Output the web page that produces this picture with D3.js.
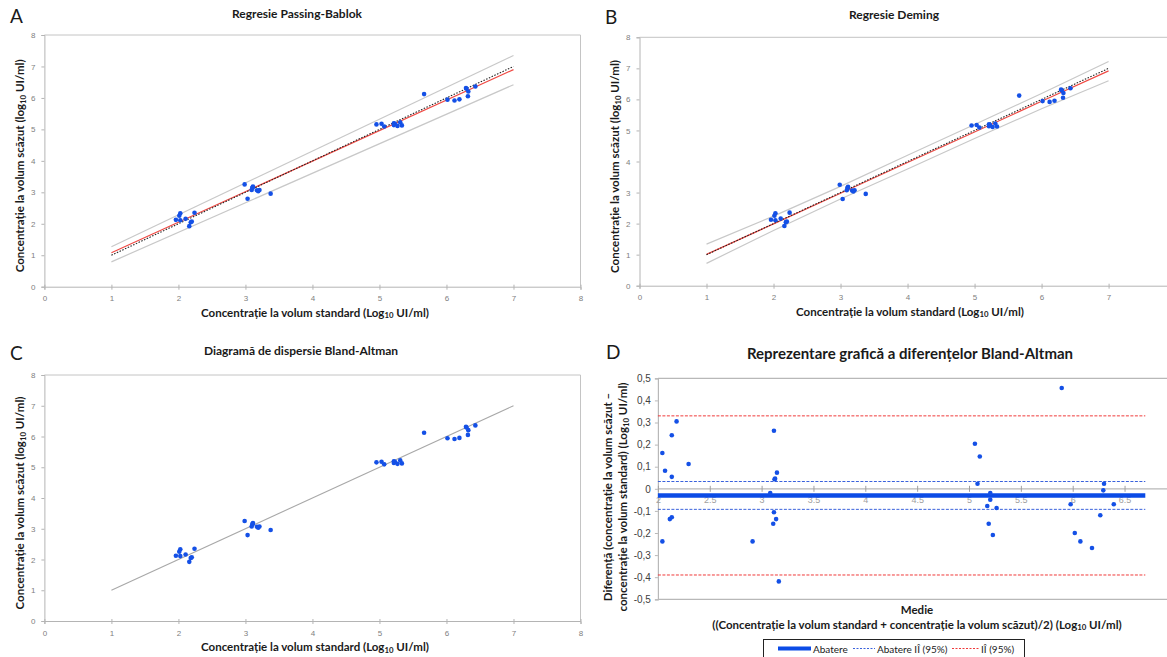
<!DOCTYPE html>
<html lang="ro">
<head>
<meta charset="UTF-8">
<title>Passing-Bablok, Deming, Bland-Altman</title>
<script src="https://cdn.jsdelivr.net/npm/d3@7"></script>
<style>
  body { margin: 0; background: #fff; }
  svg { display: block; font-family: Lato, "Open Sans", sans-serif; }
  .tick-lbl { font-size: 8px; fill: #808080; }
  .ax-title { font-size: 11.5px; font-weight: bold; fill: #1a1a1a; }
  .p-title { font-size: 12px; font-weight: bold; fill: #1a1a1a; }
  .letter { font-size: 19px; fill: #1a1a1a; }
</style>
</head>
<body>
<svg id="chart" width="1167" height="657"></svg>
<script>
// scatter data: standard volume vs reduced volume (log10 UI/ml)
const stdVals = [1.962, 2.028, 2.013, 2.028, 2.107, 2.240, 2.184, 2.199, 2.162,
  2.988, 3.112, 3.107, 3.104, 3.093, 3.172, 3.209, 3.191, 3.032, 3.376,
  4.955, 5.031, 5.071, 5.215, 5.230, 5.215, 5.310, 5.269, 5.335,
  5.666, 6.015, 6.120, 6.193, 6.320, 6.326, 6.299, 6.291, 6.431];
const lowVals = [2.124, 2.110, 2.255, 2.333, 2.161, 2.352, 2.047, 2.070, 1.924,
  3.251, 3.185, 3.153, 3.147, 3.074, 3.066, 3.072, 3.033, 2.794, 2.957,
  5.159, 5.177, 5.094, 5.196, 5.181, 5.137, 5.223, 5.111, 5.126,
  6.122, 5.945, 5.920, 5.955, 6.052, 6.206, 6.292, 6.314, 6.361];

// Bland-Altman: mean and difference
const meanVals = [2.043, 2.069, 2.134, 2.180, 2.134, 2.296, 2.115, 2.134, 2.043,
  3.119, 3.148, 3.130, 3.125, 3.083, 3.119, 3.140, 3.112, 2.913, 3.166,
  5.057, 5.104, 5.082, 5.205, 5.205, 5.176, 5.266, 5.190, 5.230,
  5.894, 5.980, 6.020, 6.074, 6.186, 6.266, 6.295, 6.302, 6.396];
const diffVals = [0.162, 0.082, 0.242, 0.305, 0.054, 0.112, -0.137, -0.129, -0.238,
  0.263, 0.073, 0.046, 0.043, -0.019, -0.106, -0.137, -0.158, -0.238, -0.419,
  0.204, 0.146, 0.023, -0.019, -0.049, -0.078, -0.087, -0.158, -0.209,
  0.456, -0.070, -0.200, -0.238, -0.268, -0.120, -0.007, 0.023, -0.070];

// regression lines
const lineX = [1, 7];
const identityY = [1, 7];
const pbFit = [1.08, 6.90];
const pbUpper = [1.27, 7.35];
const pbLower = [0.79, 6.42];

const bandX = [1, 2, 3, 4, 5, 6, 7];
const demFit = [1.01, 1.99, 2.98, 3.97, 4.95, 5.94, 6.92];
const demUpper = [1.34, 2.24, 3.20, 4.20, 5.19, 6.19, 7.22];
const demLower = [0.72, 1.78, 2.79, 3.76, 4.74, 5.70, 6.60];

const biasVal = -0.03;
const biasCI = [0.033, -0.093];
const loaVals = [0.33, -0.39];

const axisTicks = [0, 1, 2, 3, 4, 5, 6, 7, 8];
const baXTicks = [2, 2.5, 3, 3.5, 4, 4.5, 5, 5.5, 6, 6.5];
const baYTicks = [0.5, 0.4, 0.3, 0.2, 0.1, 0, -0.1, -0.2, -0.3, -0.4, -0.5];

const svg = d3.select('#chart');
svg.append('rect').attr('width', 1167).attr('height', 657).attr('fill', '#fff');

const PT = '#1450e6', GRID = '#b4b4b4', CI = '#c8c8c8', RED = '#f04a44';

function label(g, x, y, parts, cls, rotate) {
  const t = g.append('text').attr('class', cls).attr('text-anchor', 'middle')
    .attr('transform', `translate(${x},${y})` + (rotate ? ' rotate(-90)' : ''));
  parts.forEach(p => {
    if (p.sub) {
      t.append('tspan').attr('font-size', '0.68em').attr('dy', 1.5).text(p.t);
    } else {
      t.append('tspan').attr('dy', p.after ? -1.5 : 0).text(p.t);
    }
  });
  return t;
}
function logParts(L) {
  return [{t: '(' + L + 'og'}, {t: '10', sub: true}, {t: ' UI/ml)', after: true}];
}

function scatterPanel(o) {
  const g = svg.append('g');
  const x = d3.scaleLinear().domain([0, 8]).range([o.x0, o.x1]);
  const y = d3.scaleLinear().domain([0, 8]).range([o.y0, o.y1]);

  // frame
  g.append('line').attr('x1', o.x0).attr('x2', o.x1).attr('y1', o.y1).attr('y2', o.y1).attr('stroke', '#c4c4c4');
  g.append('line').attr('x1', o.x1).attr('x2', o.x1).attr('y1', o.y1).attr('y2', o.y0).attr('stroke', '#c4c4c4');

  const xa = g.append('g').attr('transform', `translate(0,${o.y0})`)
    .call(d3.axisBottom(x).tickValues(o.xTicks).tickSize(3).tickPadding(6).tickFormat(d3.format('d')));
  xa.select('.domain').attr('stroke', GRID);
  xa.selectAll('.tick line').attr('stroke', GRID).attr('y1', -2).attr('y2', 3);
  xa.selectAll('.tick text').attr('class', 'tick-lbl').attr('font-size', null).attr('font-family', null);

  const ya = g.append('g').attr('transform', `translate(${o.x0},0)`)
    .call(d3.axisLeft(y).tickValues(axisTicks).tickSize(3).tickPadding(6).tickFormat(d3.format('d')));
  ya.select('.domain').attr('stroke', GRID);
  ya.selectAll('.tick line').attr('stroke', GRID);
  ya.selectAll('.tick text').attr('class', 'tick-lbl').attr('font-size', null).attr('font-family', null);

  o.lines(g, x, y);

  g.selectAll('circle.pt').data(stdVals).join('circle').attr('class', 'pt')
    .attr('cx', d => x(d)).attr('cy', (d, i) => y(lowVals[i])).attr('r', 2.3).attr('fill', PT);

  label(g, o.xtx, o.y0 + 30, [{t: 'Concentrație la volum standard '}, ...logParts('L')], 'ax-title');
  label(g, o.ylx, (o.y0 + o.y1) / 2 + 5, [{t: 'Concentrație la volum scăzut '}, ...logParts('l')], 'ax-title', true);
  g.append('text').attr('class', 'p-title').attr('text-anchor', 'middle')
    .attr('x', o.tx).attr('y', o.ty).text(o.title);
  g.append('text').attr('class', 'letter').attr('x', o.lx).attr('y', o.ty + 5).text(o.letter);
}

function straight(g, x, y, ys, color, w, dash) {
  g.append('path').datum(lineX.map((v, i) => [v, ys[i]]))
    .attr('d', d3.line().x(d => x(d[0])).y(d => y(d[1])))
    .attr('fill', 'none').attr('stroke', color).attr('stroke-width', w)
    .attr('stroke-dasharray', dash || null);
}
function banded(g, x, y, ys, color, w) {
  g.append('path').datum(bandX.map((v, i) => [v, ys[i]]))
    .attr('d', d3.line().x(d => x(d[0])).y(d => y(d[1])))
    .attr('fill', 'none').attr('stroke', color).attr('stroke-width', w);
}

// A
scatterPanel({
  x0: 44.4, x1: 580.5, y0: 286.7, y1: 35, ylx: 24, tx: 297, ty: 18, xtx: 315,
  xTicks: axisTicks, lx: 10, letter: 'A', title: 'Regresie Passing-Bablok',
  lines: (g, x, y) => {
    straight(g, x, y, pbUpper, CI, 1.2);
    straight(g, x, y, pbLower, CI, 1.2);
    straight(g, x, y, pbFit, RED, 1.2);
    straight(g, x, y, identityY, '#222', 1.1, '1.5,1.5');
  }
});
// B
scatterPanel({
  x0: 639.5, x1: 1175.6, y0: 285.7, y1: 37.3, ylx: 619, tx: 894, ty: 19, xtx: 910,
  xTicks: axisTicks.slice(0, 8), lx: 605, letter: 'B', title: 'Regresie Deming',
  lines: (g, x, y) => {
    banded(g, x, y, demUpper, CI, 1.2);
    banded(g, x, y, demLower, CI, 1.2);
    banded(g, x, y, demFit, RED, 1.2);
    straight(g, x, y, identityY, '#222', 1.1, '1.5,1.5');
  }
});
// C
scatterPanel({
  x0: 44.4, x1: 580.5, y0: 621, y1: 375, ylx: 24, tx: 301, ty: 355, xtx: 315,
  xTicks: axisTicks, lx: 10, letter: 'C', title: 'Diagramă de dispersie Bland-Altman',
  lines: (g, x, y) => {
    straight(g, x, y, identityY, '#a8a8a8', 1.1);
  }
});

// D: Bland-Altman difference plot
(function () {
  const g = svg.append('g');
  const x0 = 657.9;
  const x = d3.scaleLinear().domain([2, 6.7]).range([x0, 1145.3]);
  const y = d3.scaleLinear().domain([-0.5, 0.5]).range([599.3, 378.3]);

  g.append('line').attr('x1', x0).attr('x2', 1167).attr('y1', y(0.5)).attr('y2', y(0.5)).attr('stroke', '#b8b8b8').attr('stroke-width', 1.2);
  g.append('line').attr('x1', x0).attr('x2', 1167).attr('y1', y(-0.5)).attr('y2', y(-0.5)).attr('stroke', '#b8b8b8').attr('stroke-width', 1.2);

  const ya = g.append('g').attr('transform', `translate(${x0},0)`)
    .call(d3.axisLeft(y).tickValues(baYTicks).tickSize(3).tickPadding(4)
      .tickFormat(d => d === 0 ? '0' : d.toFixed(1).replace('.', ',')));
  ya.select('.domain').attr('stroke', '#b8b8b8').attr('stroke-width', 1.2);
  ya.selectAll('.tick line').attr('stroke', '#b8b8b8');
  ya.selectAll('.tick text').attr('font-size', 10).attr('font-family', null).attr('fill', '#404040');

  const xa = g.append('g').attr('transform', `translate(0,${y(0)})`)
    .call(d3.axisBottom(x).tickValues(baXTicks).tickSize(3).tickPadding(5).tickFormat(d => String(d)));
  xa.select('.domain').attr('d', `M${x0},0H1167`).attr('stroke', '#b8b8b8').attr('stroke-width', 1.2);
  xa.selectAll('.tick line').attr('stroke', '#a0a0a0').attr('y1', -3).attr('y2', 3);
  xa.selectAll('.tick text').attr('font-size', 9).attr('font-family', null).attr('fill', '#a0a0a0');

  const hline = (v, color, w, dash) => g.append('line')
    .attr('x1', x(2)).attr('x2', x(6.7)).attr('y1', y(v)).attr('y2', y(v))
    .attr('stroke', color).attr('stroke-width', w).attr('stroke-dasharray', dash || null);
  loaVals.forEach(v => hline(v, '#f03a3a', 1, '3,1.5'));
  biasCI.forEach(v => hline(v, '#3a62dc', 1, '3,1.5'));
  hline(biasVal, '#0b4be6', 4.5);

  g.selectAll('circle.pt').data(meanVals).join('circle').attr('class', 'pt')
    .attr('cx', d => x(d)).attr('cy', (d, i) => y(diffVals[i])).attr('r', 2.3).attr('fill', PT);

  g.append('text').attr('text-anchor', 'middle').attr('x', 910).attr('y', 359)
    .attr('font-size', 15).attr('font-weight', 'bold').attr('fill', '#1a1a1a')
    .text('Reprezentare grafică a diferențelor Bland-Altman');
  g.append('text').attr('class', 'letter').attr('x', 606).attr('y', 359).text('D');

  label(g, 612, 497, [{t: 'Diferență (concentrație la volum scăzut –'}], 'ax-title', true);
  label(g, 627, 497, [{t: 'concentrație la volum standard) '}, ...logParts('L')], 'ax-title', true);
  g.append('text').attr('class', 'ax-title').attr('text-anchor', 'middle').attr('x', 917).attr('y', 614).text('Medie');
  label(g, 917, 628.5, [{t: '((Concentrație la volum standard + concentrație la volum scăzut)/2) '}, ...logParts('L')], 'ax-title');

  // legend
  const lg = g.append('g');
  lg.append('rect').attr('x', 763.5).attr('y', 639.5).attr('width', 261).attr('height', 30)
    .attr('fill', '#fff').attr('stroke', '#222');
  const items = [
    {x1: 778, x2: 811, c: '#0b4be6', w: 4, dash: null, t: 'Abatere', tx: 813},
    {x1: 853, x2: 875, c: '#3a62dc', w: 1, dash: '2,1.5', t: 'Abatere IÎ (95%)', tx: 877},
    {x1: 952, x2: 979, c: '#f03a3a', w: 1, dash: '2,1.5', t: 'IÎ (95%)', tx: 981}
  ];
  items.forEach(it => {
    lg.append('line').attr('x1', it.x1).attr('x2', it.x2).attr('y1', 648.5).attr('y2', 648.5)
      .attr('stroke', it.c).attr('stroke-width', it.w).attr('stroke-dasharray', it.dash);
    lg.append('text').attr('x', it.tx).attr('y', 652.5).attr('font-size', 10).attr('fill', '#1a1a1a').text(it.t);
  });
})();
</script>
</body>
</html>
